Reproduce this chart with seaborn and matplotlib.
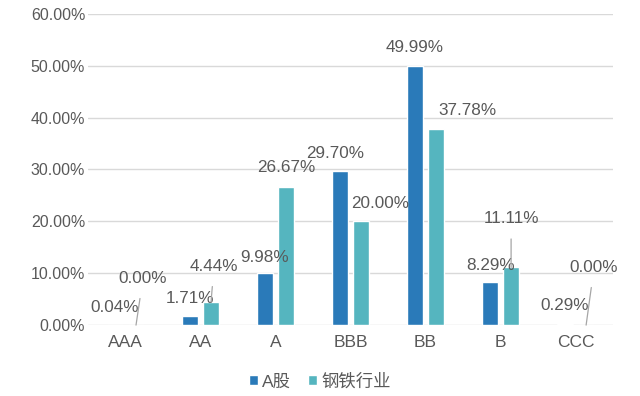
import pandas as pd
import matplotlib
matplotlib.use('Agg')
import matplotlib.pyplot as plt
import seaborn as sns
from matplotlib.ticker import FuncFormatter, MultipleLocator
from matplotlib.patches import Patch

categories = ['AAA', 'AA', 'A', 'BBB', 'BB', 'B', 'CCC']
series_names = ['A股', '钢铁行业']
a_share = [0.04, 1.71, 9.98, 29.70, 49.99, 8.29, 0.29]
steel = [0.00, 4.44, 26.67, 20.00, 37.78, 11.11, 0.00]

colors = ['#2a7ab9', '#55b5bf']
text_color = '#595959'

# label offsets in pixels (dx, dy) from the bar top, and whether a leader line is drawn
a_offsets = [(0, 17), (0, 18), (0, 16), (-5, 18), (0, 18), (0, 17), (0, 18)]
steel_offsets = [(7, 47), (3, 36), (0, 19), (19, 18), (31, 19), (0, 49), (8, 58)]
steel_leader = [True, True, False, False, False, True, True]

df = pd.DataFrame({
    'rating': categories * 2,
    'group': [series_names[0]] * len(categories) + [series_names[1]] * len(categories),
    'value': a_share + steel,
})

sns.set_theme(style='white')
plt.rcParams['font.family'] = ['Liberation Sans', 'Noto Sans CJK SC', 'DejaVu Sans']

fig = plt.figure(figsize=(6.4, 3.96), dpi=100)
ax = fig.add_axes([0.1375, 0.179, 0.8205, 0.786])

sns.barplot(data=df, x='rating', y='value', hue='group', order=categories,
            hue_order=series_names, palette=colors, width=0.56, gap=0.25,
            saturation=1, ax=ax, legend=False)

ax.set_ylim(0, 60)
ax.set_xlim(-0.5, len(categories) - 0.5)
ax.yaxis.set_major_locator(MultipleLocator(10))
ax.yaxis.set_major_formatter(FuncFormatter(lambda v, p: f'{v:.2f}%'))
ax.grid(axis='y', color='#d9d9d9', linewidth=1)
ax.set_axisbelow(True)
for s in ax.spines.values():
    s.set_visible(False)
ax.set_xlabel('')
ax.set_ylabel('')
ax.tick_params(axis='both', length=0, labelcolor=text_color)
ax.tick_params(axis='y', labelsize=11.5, pad=2)
ax.tick_params(axis='x', labelsize=12.5, pad=7)

px = 72 / fig.dpi
containers = ax.containers
for cont, vals, offs, leaders in [
        (containers[0], a_share, a_offsets, [False] * 7),
        (containers[1], steel, steel_offsets, steel_leader)]:
    for bar, v, (dx, dy), lead in zip(cont.patches, vals, offs, leaders):
        xc = bar.get_x() + bar.get_width() / 2
        arrow = None
        if lead:
            arrow = dict(arrowstyle='-', color='#a6a6a6', lw=0.9,
                         shrinkA=7, shrinkB=0)
        ax.annotate(f'{v:.2f}%', xy=(xc, v), xytext=(dx * px, dy * px),
                    textcoords='offset points', ha='center', va='center',
                    fontsize=12.3, color=text_color, arrowprops=arrow,
                    annotation_clip=False)

handles = [Patch(facecolor=c, label=n) for c, n in zip(colors, series_names)]
fig.legend(handles=handles, loc='center', bbox_to_anchor=(0.5, 0.037),
           ncol=2, frameon=False, fontsize=12.5, handlelength=0.5,
           handleheight=0.5, handletextpad=0.25, columnspacing=1.0,
           labelcolor=text_color)

fig.savefig('out.png', dpi=100)
